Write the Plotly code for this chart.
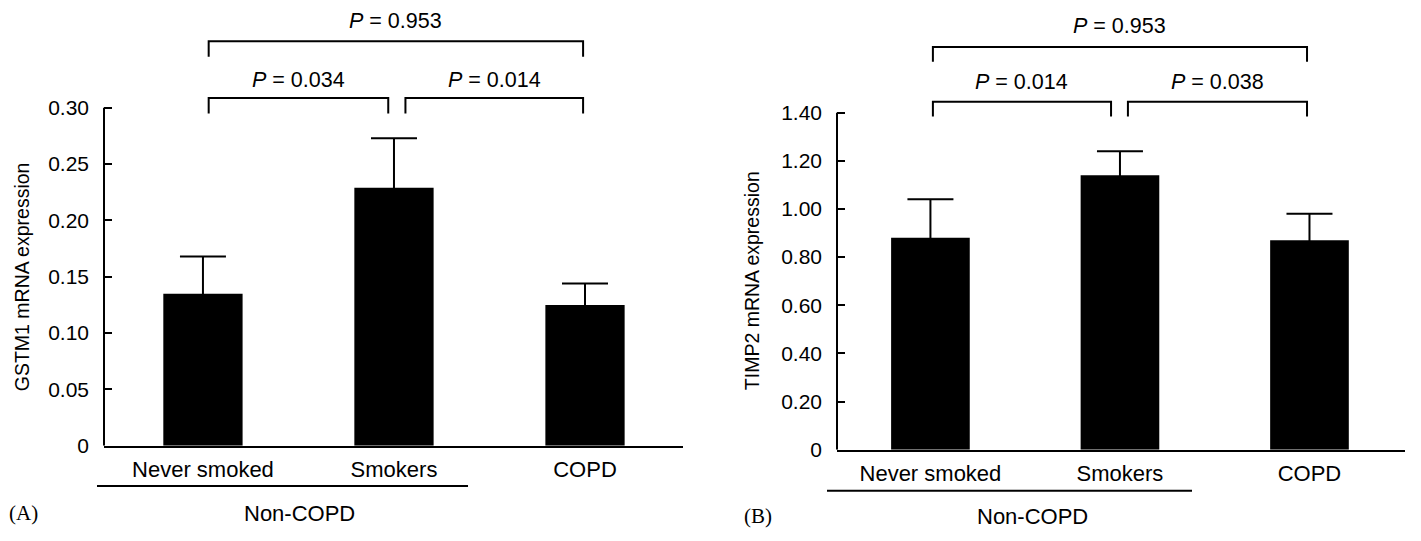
import plotly.graph_objects as go

# ---------------- data ----------------
categories = ["Never smoked", "Smokers", "COPD"]
cat_pos = [0, 1, 2]

gstm1_mean = [0.135, 0.229, 0.125]
gstm1_upper = [0.168, 0.273, 0.144]
timp2_mean = [0.88, 1.14, 0.87]
timp2_upper = [1.04, 1.24, 0.98]

gstm1_ticks = [0, 0.05, 0.10, 0.15, 0.20, 0.25, 0.30]
gstm1_ticktext = ["0", "0.05", "0.10", "0.15", "0.20", "0.25", "0.30"]
timp2_ticks = [0, 0.20, 0.40, 0.60, 0.80, 1.00, 1.20, 1.40]
timp2_ticktext = ["0", "0.20", "0.40", "0.60", "0.80", "1.00", "1.20", "1.40"]

# comparison brackets: start / end positions on category axis, heights in data units
gstm1_p = ["0.034", "0.014", "0.953"]
gstm1_br_x0 = [0.03, 1.06, 0.03]
gstm1_br_x1 = [0.97, 1.99, 1.99]
gstm1_br_top = [0.3087, 0.3087, 0.3591]
gstm1_br_foot = [0.2948, 0.2948, 0.3452]
gstm1_p_y = [0.3243, 0.3243, 0.3774]

timp2_p = ["0.014", "0.038", "0.953"]
timp2_br_x0 = [0.013, 1.042, 0.013]
timp2_br_x1 = [0.953, 1.987, 1.987]
timp2_br_top = [1.445, 1.445, 1.673]
timp2_br_foot = [1.384, 1.384, 1.612]
timp2_p_y = [1.526, 1.526, 1.762]

group_label = "Non-COPD"
panel_labels = ["(A)", "(B)"]
y_titles = ["GSTM1 mRNA expression", "TIMP2 mRNA expression"]

FONT = "Liberation Sans, Arial, sans-serif"
W, H = 1421, 541

fig = go.Figure()

panels = [
    dict(mean=gstm1_mean, upper=gstm1_upper, xa="x", ya="y", xk="xaxis", yk="yaxis",
         xdom=[104 / W, 683 / W], ydom=[(H - 455) / H, 1.0], xr=[-0.518, 2.513],
         yr=[0, 455 / 1150.0], ytop=0.30, ticks=gstm1_ticks, ticktext=gstm1_ticktext,
         p=gstm1_p, bx0=gstm1_br_x0, bx1=gstm1_br_x1, btop=gstm1_br_top, bfoot=gstm1_br_foot,
         py=gstm1_p_y, ul=(-0.0121, 0.6287, (H - 496) / H), gl=(0.3385, (H - 524) / H),
         pl=(23 / W, (H - 524) / H), yt=(22 / W, (H - 283) / H)),
    dict(mean=timp2_mean, upper=timp2_upper, xa="x2", ya="y2", xk="xaxis2", yk="yaxis2",
         xdom=[837 / W, 1405 / W], ydom=[(H - 459) / H, 1.0], xr=[-0.493, 2.504],
         yr=[0, 459 / 245.7], ytop=1.40, ticks=timp2_ticks, ticktext=timp2_ticktext,
         p=timp2_p, bx0=timp2_br_x0, bx1=timp2_br_x1, btop=timp2_br_top, bfoot=timp2_br_foot,
         py=timp2_p_y, ul=(-0.0176, 0.625, (H - 501) / H), gl=(0.345, (H - 527) / H),
         pl=(758 / W, (H - 527) / H), yt=(752 / W, (H - 287) / H)),
]

shapes = []
annotations = []
layout = {}

for i, pn in enumerate(panels):
    err = [u - m for u, m in zip(pn["upper"], pn["mean"])]
    fig.add_trace(go.Bar(
        x=cat_pos, y=pn["mean"], width=0.415,
        marker=dict(color="black", line=dict(width=0)),
        error_y=dict(type="data", array=err, symmetric=True, color="black",
                     thickness=2, width=23),
        xaxis=pn["xa"], yaxis=pn["ya"], showlegend=False, hoverinfo="skip",
    ))
    layout[pn["xk"]] = dict(
        domain=pn["xdom"], range=pn["xr"], anchor=pn["ya"],
        tickmode="array", tickvals=cat_pos, ticktext=categories,
        ticks="", showline=True, linecolor="black", linewidth=2,
        showgrid=False, zeroline=False, fixedrange=True,
        tickfont=dict(family=FONT, size=22, color="black"),
        ticklabelstandoff=3,
    )
    layout[pn["yk"]] = dict(
        domain=pn["ydom"], range=pn["yr"], anchor=pn["xa"],
        tickmode="array", tickvals=pn["ticks"], ticktext=pn["ticktext"],
        ticks="inside", ticklen=8, tickwidth=2, tickcolor="black",
        showline=False, showgrid=False, zeroline=False, fixedrange=True,
        tickfont=dict(family=FONT, size=21, color="black"),
        ticklabelstandoff=14,
    )
    # y axis line up to the last tick
    shapes.append(dict(type="line", xref=pn["xa"] + " domain", yref=pn["ya"],
                       x0=0, x1=0, y0=0, y1=pn["ytop"],
                       line=dict(color="black", width=2)))
    # brackets
    for x0, x1, yt, yf, pv, py in zip(pn["bx0"], pn["bx1"], pn["btop"], pn["bfoot"], pn["p"], pn["py"]):
        shapes.append(dict(type="path", xref=pn["xa"], yref=pn["ya"],
                           path=f"M {x0},{yf} L {x0},{yt} L {x1},{yt} L {x1},{yf}",
                           line=dict(color="black", width=2)))
        annotations.append(dict(xref=pn["xa"], yref=pn["ya"], x=(x0 + x1) / 2, y=py,
                                text=f"<i>P</i> = {pv}", showarrow=False,
                                font=dict(family=FONT, size=21.5, color="black"),
                                xanchor="center", yanchor="middle"))
    # group underline + label
    ux0, ux1, uy = pn["ul"]
    shapes.append(dict(type="line", xref=pn["xa"] + " domain", yref="paper",
                       x0=ux0, x1=ux1, y0=uy, y1=uy, line=dict(color="black", width=2)))
    gx, gy = pn["gl"]
    annotations.append(dict(xref=pn["xa"] + " domain", yref="paper", x=gx, y=gy,
                            text=group_label, showarrow=False,
                            font=dict(family=FONT, size=22, color="black"),
                            xanchor="center", yanchor="middle"))
    plx, ply = pn["pl"]
    annotations.append(dict(xref="paper", yref="paper", x=plx, y=ply,
                            text=panel_labels[i], showarrow=False,
                            font=dict(family="Liberation Serif, Times New Roman, serif",
                                      size=21, color="black"),
                            xanchor="center", yanchor="middle"))
    ytx, yty = pn["yt"]
    annotations.append(dict(xref="paper", yref="paper", x=ytx, y=yty,
                            text=y_titles[i], showarrow=False, textangle=-90,
                            font=dict(family=FONT, size=19.5, color="black"),
                            xanchor="center", yanchor="middle"))

fig.update_layout(
    width=W, height=H, margin=dict(l=0, r=0, t=0, b=0),
    paper_bgcolor="white", plot_bgcolor="white",
    barmode="overlay", shapes=shapes, annotations=annotations,
    **layout,
)

# remove the default page margin so the figure sits at the window origin
post = (
    "document.documentElement.style.margin='0';"
    "document.body.style.margin='0';"
    "document.body.style.overflow='hidden';"
)

fig.write_html("out.html", config={"displayModeBar": False}, post_script=post)
